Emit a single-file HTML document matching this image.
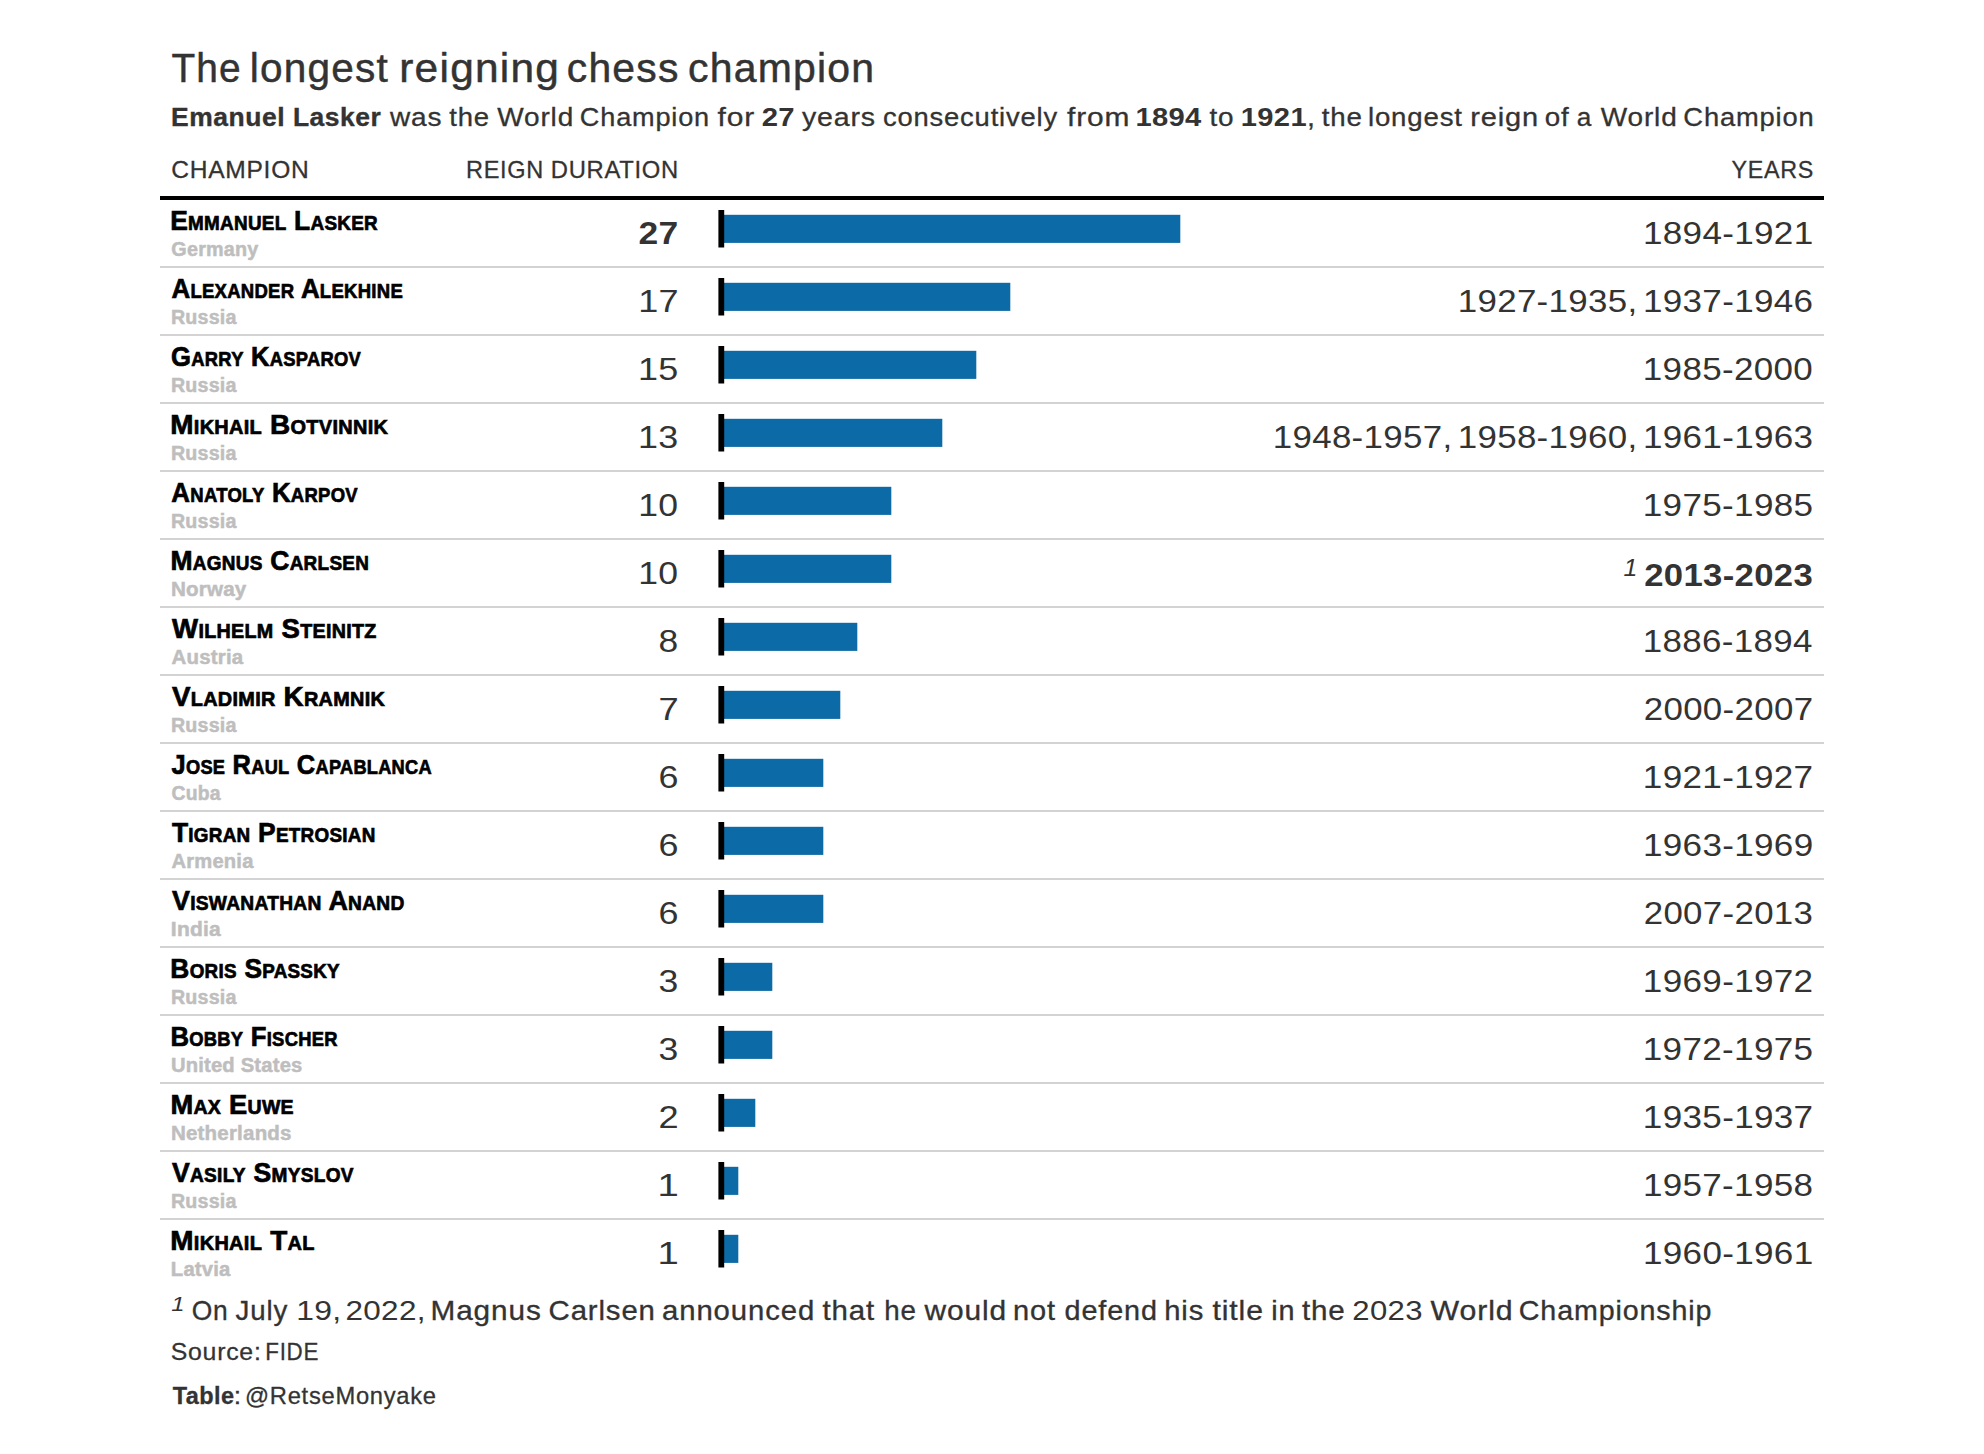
<!DOCTYPE html>
<html lang="en"><head><meta charset="utf-8"><title>The longest reigning chess champion</title>
<style>
html,body{margin:0;padding:0;background:#fff}
body{width:1984px;position:relative;overflow:hidden;font-family:"Liberation Sans",sans-serif;color:#333}
span,.hb,.pl{position:absolute;white-space:nowrap;line-height:1}
span{transform-origin:0 0}
.k{-webkit-text-stroke:0.012em #333}
.kb{-webkit-text-stroke:0.014em #333}
.b{font-weight:bold}
.title{font-size:40px}
.sub{font-size:26px}
.ch{font-size:24px}
.nm{font-size:28px;font-weight:bold;font-variant:small-caps;color:#000;-webkit-text-stroke:0.7px #000}
.ct{font-size:20px;font-weight:bold;color:#bebebe;-webkit-text-stroke:0.5px #bebebe}
.num,.yr{font-size:32px}
.fm{font-size:24px;font-style:italic}
.fnm{font-size:20px;font-style:italic}
.fn{font-size:28px}
.src{font-size:24px}
.hb{left:160px;top:196px;width:1664px;height:4px;background:#000}
.row{position:absolute;left:160px;width:1664px;height:66px;border-bottom:2px solid #d3d3d3}
.row.last{border-bottom:none}
.pl{left:540px;top:0;width:500px;height:66px}
body{height:1454px}</style></head><body>
<div class="g-title"><span class="title k" style="left:171px;top:48px;letter-spacing:1.20px;transform:translate(0.43px,0.04px) scaleX(0.9706)">The</span> <span class="title k" style="left:249px;top:48px;letter-spacing:1.20px;transform:translate(0.83px,0.04px) scaleX(1.0133)">longest</span> <span class="title k" style="left:399px;top:48px;letter-spacing:1.20px;transform:translate(0.24px,0.04px) scaleX(1.0595)">reigning</span> <span class="title k" style="left:566px;top:48px;letter-spacing:1.20px;transform:translate(0.79px,0.04px) scaleX(1.0208)">chess</span> <span class="title k" style="left:687px;top:48px;letter-spacing:1.20px;transform:translate(1.00px,0.04px) scaleX(1.0231)">champion</span></div>
<div class="g-sub"><span class="sub b kb" style="left:171px;top:103px;letter-spacing:0.52px;transform:translate(0.12px,0.79px) scaleX(1.0171)">Emanuel Lasker</span> <span class="sub k" style="left:389px;top:103px;letter-spacing:0.78px;transform:translate(0.93px,0.79px) scaleX(1.0781)">was</span> <span class="sub k" style="left:449px;top:103px;letter-spacing:0.78px;transform:translate(0.28px,0.79px) scaleX(1.0562)">the</span> <span class="sub k" style="left:497px;top:103px;letter-spacing:0.78px;transform:translate(0.27px,0.79px) scaleX(1.0762)">World</span> <span class="sub k" style="left:579px;top:103px;letter-spacing:0.78px;transform:translate(0.85px,0.79px) scaleX(1.0433)">Champion</span> <span class="sub k" style="left:717px;top:103px;letter-spacing:0.78px;transform:translate(0.44px,0.79px) scaleX(1.1531)">for</span> <span class="sub b" style="left:761px;top:103px;letter-spacing:0.30px;transform:translate(0.71px,0.79px) scaleX(1.1263)">27</span> <span class="sub k" style="left:801px;top:103px;letter-spacing:0.78px;transform:translate(0.88px,0.79px) scaleX(1.0980)">years</span> <span class="sub k" style="left:882px;top:103px;letter-spacing:0.78px;transform:translate(0.93px,0.79px) scaleX(1.0532)">consecutively</span> <span class="sub k" style="left:1066px;top:103px;letter-spacing:0.78px;transform:translate(0.97px,0.79px) scaleX(1.1507)">from</span> <span class="sub b" style="left:1135px;top:103px;letter-spacing:0.30px;transform:translate(0.38px,0.79px) scaleX(1.1199)">1894</span> <span class="sub k" style="left:1209px;top:103px;letter-spacing:0.78px;transform:translate(0.40px,0.79px) scaleX(1.0724)">to</span> <span class="sub b" style="left:1240px;top:103px;letter-spacing:0.30px;transform:translate(0.78px,0.79px) scaleX(1.1205)">1921</span><span class="sub k" style="left:1307px;top:103px;transform:translate(0.06px,0.79px) scaleX(1.1000)">,</span> <span class="sub k" style="left:1321px;top:103px;letter-spacing:0.78px;transform:translate(0.64px,0.79px) scaleX(1.0664)">the</span> <span class="sub k" style="left:1367px;top:103px;letter-spacing:0.78px;transform:translate(0.93px,0.79px) scaleX(1.0625)">longest</span> <span class="sub k" style="left:1470px;top:103px;letter-spacing:0.78px;transform:translate(0.20px,0.79px) scaleX(1.1149)">reign</span> <span class="sub k" style="left:1544px;top:103px;letter-spacing:0.78px;transform:translate(0.82px,0.79px) scaleX(1.0698)">of</span> <span class="sub k" style="left:1576px;top:103px;transform:translate(0.84px,0.79px) scaleX(1.0077)">a</span> <span class="sub k" style="left:1600px;top:103px;letter-spacing:0.78px;transform:translate(0.81px,0.79px) scaleX(1.0763)">World</span> <span class="sub k" style="left:1683px;top:103px;letter-spacing:0.78px;transform:translate(0.35px,0.79px) scaleX(1.0511)">Champion</span></div>
<div class="g-head"><span class="ch k" style="left:171px;top:157px;letter-spacing:0.72px;transform:translate(0.19px,0.68px) scaleX(1.0236)">CHAMPION</span> <span class="ch k" style="left:465px;top:157px;letter-spacing:0.72px;transform:translate(0.95px,0.68px) scaleX(0.9795)">REIGN</span> <span class="ch k" style="left:550px;top:157px;letter-spacing:0.72px;transform:translate(0.79px,0.68px) scaleX(0.9909)">DURATION</span> <span class="ch k" style="left:1731px;top:157px;letter-spacing:0.72px;transform:translate(0.59px,0.68px) scaleX(0.9704)">YEARS</span></div>
<div class="hb"></div>
<div class="row" style="top:200px"><span class="nm" style="left:10px;top:6px;letter-spacing:0.30px;transform:translate(0.19px,0.60px) scaleX(0.9433)">Emmanuel Lasker</span> <span class="ct" style="left:11px;top:38px;letter-spacing:0.20px;transform:translate(0.37px,0.87px) scaleX(0.9897)">Germany</span> <span class="num b" style="left:478px;top:17px;letter-spacing:0.30px;transform:translate(0.45px,0.11px) scaleX(1.1060)">27</span> <span class="yr" style="left:1482px;top:17px;letter-spacing:0.30px;transform:translate(0.90px,0.11px) scaleX(1.0956)">1894-1921</span><svg class="pl" viewBox="0 0 500 66"><rect x="21.30" y="14.8" width="459" height="28.1" fill="#0c6ba6"/><rect x="18.40" y="10" width="5.8" height="37.5" fill="#000"/></svg></div>
<div class="row" style="top:268px"><span class="nm" style="left:11px;top:6px;letter-spacing:0.30px;transform:translate(0.40px,0.60px) scaleX(0.9251)">Alexander Alekhine</span> <span class="ct" style="left:10px;top:38px;letter-spacing:0.20px;transform:translate(0.91px,0.87px) scaleX(0.9832)">Russia</span> <span class="num" style="left:478px;top:17px;letter-spacing:0.30px;transform:translate(0.17px,0.11px) scaleX(1.1251)">17</span> <span class="yr" style="left:1297px;top:17px;letter-spacing:0.30px;transform:translate(0.75px,0.11px) scaleX(1.0896)">1927-1935,</span> <span class="yr" style="left:1482px;top:17px;letter-spacing:0.30px;transform:translate(0.91px,0.11px) scaleX(1.0950)">1937-1946</span><svg class="pl" viewBox="0 0 500 66"><rect x="21.30" y="14.8" width="289" height="28.1" fill="#0c6ba6"/><rect x="18.40" y="10" width="5.8" height="37.5" fill="#000"/></svg></div>
<div class="row" style="top:336px"><span class="nm" style="left:11px;top:6px;letter-spacing:0.30px;transform:translate(0.12px,0.60px) scaleX(0.9157)">Garry Kasparov</span> <span class="ct" style="left:10px;top:38px;letter-spacing:0.20px;transform:translate(0.91px,0.87px) scaleX(0.9832)">Russia</span> <span class="num" style="left:478px;top:17px;letter-spacing:0.30px;transform:translate(0.03px,0.11px) scaleX(1.1233)">15</span> <span class="yr" style="left:1482px;top:17px;letter-spacing:0.30px;transform:translate(0.83px,0.11px) scaleX(1.0929)">1985-2000</span><svg class="pl" viewBox="0 0 500 66"><rect x="21.30" y="14.8" width="255" height="28.1" fill="#0c6ba6"/><rect x="18.40" y="10" width="5.8" height="37.5" fill="#000"/></svg></div>
<div class="row" style="top:404px"><span class="nm" style="left:10px;top:6px;letter-spacing:0.30px;transform:translate(0.24px,0.60px) scaleX(0.9970)">Mikhail Botvinnik</span> <span class="ct" style="left:10px;top:38px;letter-spacing:0.20px;transform:translate(0.91px,0.87px) scaleX(0.9832)">Russia</span> <span class="num" style="left:478px;top:17px;letter-spacing:0.30px;transform:translate(0.03px,0.11px) scaleX(1.1211)">13</span> <span class="yr" style="left:1112px;top:17px;letter-spacing:0.30px;transform:translate(0.75px,0.11px) scaleX(1.0896)">1948-1957,</span> <span class="yr" style="left:1297px;top:17px;letter-spacing:0.30px;transform:translate(0.75px,0.11px) scaleX(1.0896)">1958-1960,</span> <span class="yr" style="left:1482px;top:17px;letter-spacing:0.30px;transform:translate(0.92px,0.11px) scaleX(1.0945)">1961-1963</span><svg class="pl" viewBox="0 0 500 66"><rect x="21.30" y="14.8" width="221" height="28.1" fill="#0c6ba6"/><rect x="18.40" y="10" width="5.8" height="37.5" fill="#000"/></svg></div>
<div class="row" style="top:472px"><span class="nm" style="left:11px;top:6px;letter-spacing:0.30px;transform:translate(0.36px,0.60px) scaleX(0.9232)">Anatoly Karpov</span> <span class="ct" style="left:10px;top:38px;letter-spacing:0.20px;transform:translate(0.91px,0.87px) scaleX(0.9832)">Russia</span> <span class="num" style="left:478px;top:17px;letter-spacing:0.30px;transform:translate(0.15px,0.11px) scaleX(1.1109)">10</span> <span class="yr" style="left:1482px;top:17px;letter-spacing:0.30px;transform:translate(0.73px,0.11px) scaleX(1.0958)">1975-1985</span><svg class="pl" viewBox="0 0 500 66"><rect x="21.30" y="14.8" width="170" height="28.1" fill="#0c6ba6"/><rect x="18.40" y="10" width="5.8" height="37.5" fill="#000"/></svg></div>
<div class="row" style="top:540px"><span class="nm" style="left:10px;top:6px;letter-spacing:0.30px;transform:translate(0.42px,0.60px) scaleX(0.9466)">Magnus Carlsen</span> <span class="ct" style="left:10px;top:38px;letter-spacing:0.20px;transform:translate(0.89px,0.87px) scaleX(1.0293)">Norway</span> <span class="num" style="left:478px;top:17px;letter-spacing:0.30px;transform:translate(0.15px,0.11px) scaleX(1.1109)">10</span> <span class="fm" style="left:1463px;top:15px;transform:translate(0.55px,0.88px) scaleX(1.0401)">1</span> <span class="yr b" style="left:1484px;top:18px;letter-spacing:0.30px;transform:translate(0.24px,0.51px) scaleX(1.0843)">2013-2023</span><svg class="pl" viewBox="0 0 500 66"><rect x="21.30" y="14.8" width="170" height="28.1" fill="#0c6ba6"/><rect x="18.40" y="10" width="5.8" height="37.5" fill="#000"/></svg></div>
<div class="row" style="top:608px"><span class="nm" style="left:12px;top:6px;letter-spacing:0.30px;transform:translate(0.04px,0.60px) scaleX(0.9854)">Wilhelm Steinitz</span> <span class="ct" style="left:11px;top:38px;letter-spacing:0.20px;transform:translate(0.62px,0.87px) scaleX(1.0206)">Austria</span> <span class="num" style="left:498px;top:17px;transform:translate(0.60px,0.11px) scaleX(1.1064)">8</span> <span class="yr" style="left:1482px;top:17px;letter-spacing:0.30px;transform:translate(0.83px,0.11px) scaleX(1.0912)">1886-1894</span><svg class="pl" viewBox="0 0 500 66"><rect x="21.30" y="14.8" width="136" height="28.1" fill="#0c6ba6"/><rect x="18.40" y="10" width="5.8" height="37.5" fill="#000"/></svg></div>
<div class="row" style="top:676px"><span class="nm" style="left:11px;top:6px;letter-spacing:0.30px;transform:translate(0.99px,0.60px) scaleX(0.9924)">Vladimir Kramnik</span> <span class="ct" style="left:10px;top:38px;letter-spacing:0.20px;transform:translate(0.91px,0.87px) scaleX(0.9832)">Russia</span> <span class="num" style="left:498px;top:17px;transform:translate(0.52px,0.11px) scaleX(1.1332)">7</span> <span class="yr" style="left:1483px;top:17px;letter-spacing:0.30px;transform:translate(0.67px,0.11px) scaleX(1.0903)">2000-2007</span><svg class="pl" viewBox="0 0 500 66"><rect x="21.30" y="14.8" width="119" height="28.1" fill="#0c6ba6"/><rect x="18.40" y="10" width="5.8" height="37.5" fill="#000"/></svg></div>
<div class="row" style="top:744px"><span class="nm" style="left:11px;top:6px;letter-spacing:0.30px;transform:translate(0.57px,0.60px) scaleX(0.9097)">Jose Raul Capablanca</span> <span class="ct" style="left:11px;top:38px;letter-spacing:0.20px;transform:translate(0.54px,0.87px) scaleX(0.9665)">Cuba</span> <span class="num" style="left:498px;top:17px;transform:translate(0.56px,0.11px) scaleX(1.1221)">6</span> <span class="yr" style="left:1482px;top:17px;letter-spacing:0.30px;transform:translate(0.83px,0.11px) scaleX(1.0955)">1921-1927</span><svg class="pl" viewBox="0 0 500 66"><rect x="21.30" y="14.8" width="102" height="28.1" fill="#0c6ba6"/><rect x="18.40" y="10" width="5.8" height="37.5" fill="#000"/></svg></div>
<div class="row" style="top:812px"><span class="nm" style="left:11px;top:6px;letter-spacing:0.30px;transform:translate(0.93px,0.60px) scaleX(0.9424)">Tigran Petrosian</span> <span class="ct" style="left:11px;top:38px;letter-spacing:0.20px;transform:translate(0.46px,0.87px) scaleX(1.0082)">Armenia</span> <span class="num" style="left:498px;top:17px;transform:translate(0.56px,0.11px) scaleX(1.1221)">6</span> <span class="yr" style="left:1482px;top:17px;letter-spacing:0.30px;transform:translate(0.92px,0.11px) scaleX(1.0954)">1963-1969</span><svg class="pl" viewBox="0 0 500 66"><rect x="21.30" y="14.8" width="102" height="28.1" fill="#0c6ba6"/><rect x="18.40" y="10" width="5.8" height="37.5" fill="#000"/></svg></div>
<div class="row" style="top:880px"><span class="nm" style="left:11px;top:6px;letter-spacing:0.30px;transform:translate(0.96px,0.60px) scaleX(0.9592)">Viswanathan Anand</span> <span class="ct" style="left:10px;top:38px;letter-spacing:0.20px;transform:translate(0.85px,0.87px) scaleX(1.0499)">India</span> <span class="num" style="left:498px;top:17px;transform:translate(0.56px,0.11px) scaleX(1.1221)">6</span> <span class="yr" style="left:1483px;top:17px;letter-spacing:0.30px;transform:translate(0.71px,0.11px) scaleX(1.0887)">2007-2013</span><svg class="pl" viewBox="0 0 500 66"><rect x="21.30" y="14.8" width="102" height="28.1" fill="#0c6ba6"/><rect x="18.40" y="10" width="5.8" height="37.5" fill="#000"/></svg></div>
<div class="row" style="top:948px"><span class="nm" style="left:10px;top:6px;letter-spacing:0.30px;transform:translate(0.34px,0.60px) scaleX(0.9408)">Boris Spassky</span> <span class="ct" style="left:10px;top:38px;letter-spacing:0.20px;transform:translate(0.91px,0.87px) scaleX(0.9832)">Russia</span> <span class="num" style="left:498px;top:17px;transform:translate(0.54px,0.11px) scaleX(1.1109)">3</span> <span class="yr" style="left:1482px;top:17px;letter-spacing:0.30px;transform:translate(0.83px,0.11px) scaleX(1.0955)">1969-1972</span><svg class="pl" viewBox="0 0 500 66"><rect x="21.30" y="14.8" width="51" height="28.1" fill="#0c6ba6"/><rect x="18.40" y="10" width="5.8" height="37.5" fill="#000"/></svg></div>
<div class="row" style="top:1016px"><span class="nm" style="left:10px;top:6px;letter-spacing:0.30px;transform:translate(0.43px,0.60px) scaleX(0.9174)">Bobby Fischer</span> <span class="ct" style="left:10px;top:38px;letter-spacing:0.20px;transform:translate(0.88px,0.87px) scaleX(1.0093)">United States</span> <span class="num" style="left:498px;top:17px;transform:translate(0.54px,0.11px) scaleX(1.1109)">3</span> <span class="yr" style="left:1482px;top:17px;letter-spacing:0.30px;transform:translate(0.73px,0.11px) scaleX(1.0958)">1972-1975</span><svg class="pl" viewBox="0 0 500 66"><rect x="21.30" y="14.8" width="51" height="28.1" fill="#0c6ba6"/><rect x="18.40" y="10" width="5.8" height="37.5" fill="#000"/></svg></div>
<div class="row" style="top:1084px"><span class="nm" style="left:10px;top:6px;letter-spacing:0.30px;transform:translate(0.38px,0.60px) scaleX(0.9754)">Max Euwe</span> <span class="ct" style="left:10px;top:38px;letter-spacing:0.20px;transform:translate(0.88px,0.87px) scaleX(1.0260)">Netherlands</span> <span class="num" style="left:498px;top:17px;transform:translate(0.56px,0.11px) scaleX(1.1311)">2</span> <span class="yr" style="left:1482px;top:17px;letter-spacing:0.30px;transform:translate(0.83px,0.11px) scaleX(1.0955)">1935-1937</span><svg class="pl" viewBox="0 0 500 66"><rect x="21.30" y="14.8" width="34" height="28.1" fill="#0c6ba6"/><rect x="18.40" y="10" width="5.8" height="37.5" fill="#000"/></svg></div>
<div class="row" style="top:1152px"><span class="nm" style="left:11px;top:6px;letter-spacing:0.30px;transform:translate(0.95px,0.60px) scaleX(0.9526)">Vasily Smyslov</span> <span class="ct" style="left:10px;top:38px;letter-spacing:0.20px;transform:translate(0.91px,0.87px) scaleX(0.9832)">Russia</span> <span class="num" style="left:497px;top:17px;transform:translate(0.46px,0.11px) scaleX(1.1950)">1</span> <span class="yr" style="left:1482px;top:17px;letter-spacing:0.30px;transform:translate(0.93px,0.11px) scaleX(1.0937)">1957-1958</span><svg class="pl" viewBox="0 0 500 66"><rect x="21.30" y="14.8" width="17" height="28.1" fill="#0c6ba6"/><rect x="18.40" y="10" width="5.8" height="37.5" fill="#000"/></svg></div>
<div class="row last" style="top:1220px"><span class="nm" style="left:10px;top:6px;letter-spacing:0.30px;transform:translate(0.27px,0.60px) scaleX(0.9974)">Mikhail Tal</span> <span class="ct" style="left:10px;top:38px;letter-spacing:0.20px;transform:translate(0.83px,0.87px) scaleX(1.0120)">Latvia</span> <span class="num" style="left:497px;top:17px;transform:translate(0.46px,0.11px) scaleX(1.1950)">1</span> <span class="yr" style="left:1482px;top:17px;letter-spacing:0.30px;transform:translate(0.90px,0.11px) scaleX(1.0956)">1960-1961</span><svg class="pl" viewBox="0 0 500 66"><rect x="21.30" y="14.8" width="17" height="28.1" fill="#0c6ba6"/><rect x="18.40" y="10" width="5.8" height="37.5" fill="#000"/></svg></div>
<div class="g-fn"><span class="fnm" style="left:171px;top:1294px;transform:translate(0.30px,0.07px) scaleX(1.1931)">1</span> <span class="fn k" style="left:191px;top:1296px;letter-spacing:0.84px;transform:translate(0.63px,0.80px) scaleX(0.9433)">On</span> <span class="fn k" style="left:235px;top:1296px;letter-spacing:0.84px;transform:translate(0.55px,0.80px) scaleX(0.9878)">July</span> <span class="fn" style="left:296px;top:1296px;letter-spacing:0.30px;transform:translate(0.22px,0.80px) scaleX(1.1388)">19,</span> <span class="fn" style="left:345px;top:1296px;letter-spacing:0.30px;transform:translate(0.41px,0.80px) scaleX(1.1231)">2022,</span> <span class="fn k" style="left:430px;top:1296px;letter-spacing:0.84px;transform:translate(0.52px,0.80px) scaleX(1.0623)">Magnus</span> <span class="fn k" style="left:548px;top:1296px;letter-spacing:0.84px;transform:translate(0.56px,0.80px) scaleX(1.0478)">Carlsen</span> <span class="fn k" style="left:662px;top:1296px;letter-spacing:0.84px;transform:translate(0.05px,0.80px) scaleX(1.0473)">announced</span> <span class="fn k" style="left:822px;top:1296px;letter-spacing:0.84px;transform:translate(0.45px,0.80px) scaleX(1.0515)">that</span> <span class="fn k" style="left:884px;top:1296px;letter-spacing:0.84px;transform:translate(0.13px,0.80px) scaleX(0.9918)">he</span> <span class="fn k" style="left:924px;top:1296px;letter-spacing:0.84px;transform:translate(0.42px,0.80px) scaleX(1.0682)">would</span> <span class="fn k" style="left:1013px;top:1296px;letter-spacing:0.84px;transform:translate(0.07px,0.80px) scaleX(1.0361)">not</span> <span class="fn k" style="left:1064px;top:1296px;letter-spacing:0.84px;transform:translate(0.62px,0.80px) scaleX(1.0281)">defend</span> <span class="fn k" style="left:1164px;top:1296px;letter-spacing:0.84px;transform:translate(0.19px,0.80px) scaleX(1.0442)">his</span> <span class="fn k" style="left:1212px;top:1296px;letter-spacing:0.84px;transform:translate(0.40px,0.80px) scaleX(1.0765)">title</span> <span class="fn k" style="left:1271px;top:1296px;letter-spacing:0.84px;transform:translate(0.28px,0.80px) scaleX(1.0294)">in</span> <span class="fn k" style="left:1301px;top:1296px;letter-spacing:0.84px;transform:translate(0.88px,0.80px) scaleX(1.0578)">the</span> <span class="fn" style="left:1352px;top:1296px;letter-spacing:0.30px;transform:translate(0.35px,0.80px) scaleX(1.1101)">2023</span> <span class="fn k" style="left:1430px;top:1296px;letter-spacing:0.84px;transform:translate(0.49px,0.80px) scaleX(1.0816)">World</span> <span class="fn k" style="left:1518px;top:1296px;letter-spacing:0.84px;transform:translate(0.81px,0.80px) scaleX(1.0235)">Championship</span></div>
<div class="g-src"><span class="src k" style="left:170px;top:1339px;letter-spacing:0.72px;transform:translate(0.73px,0.78px) scaleX(1.0353)">Source:</span> <span class="src k" style="left:265px;top:1339px;letter-spacing:0.72px;transform:translate(0.37px,0.78px) scaleX(0.9316)">FIDE</span></div>
<div class="g-tbl"><span class="src b kb" style="left:172px;top:1383px;letter-spacing:0.48px;transform:translate(0.73px,0.68px) scaleX(0.9775)">Table</span><span class="src k" style="left:233px;top:1383px;transform:translate(0.78px,0.68px) scaleX(1.1000)">:</span> <span class="src k" style="left:244px;top:1383px;letter-spacing:0.72px;transform:translate(0.98px,0.68px) scaleX(0.9897)">@RetseMonyake</span></div>
</body></html>
